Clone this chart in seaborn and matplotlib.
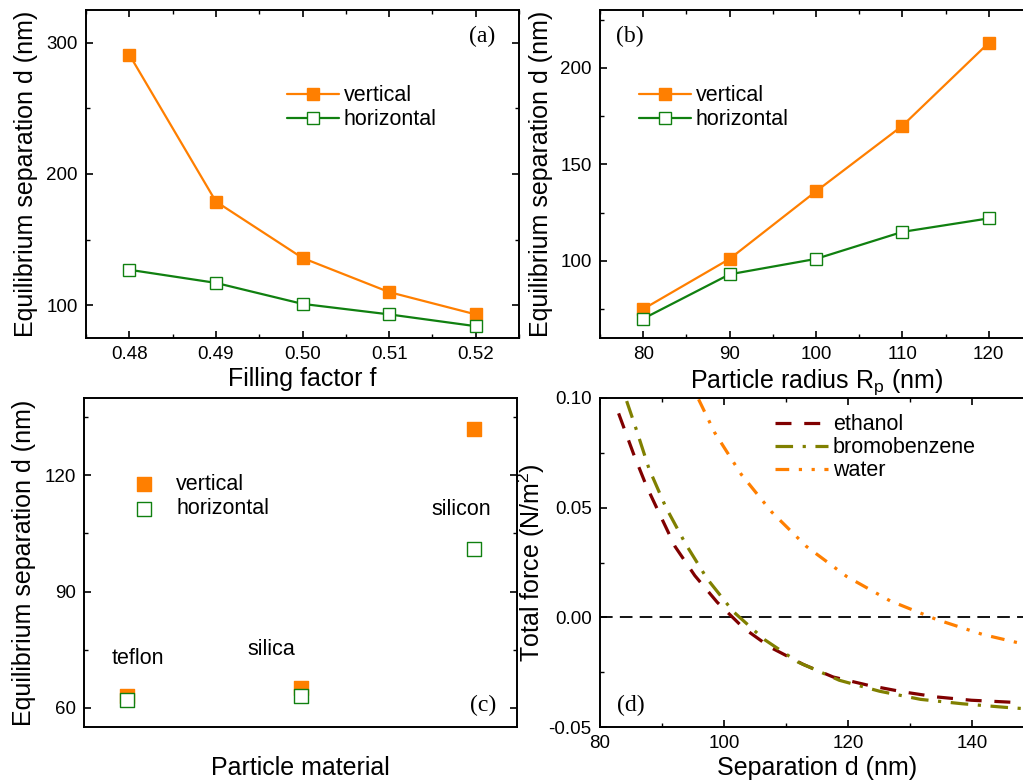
import matplotlib
matplotlib.use("Agg")
import matplotlib.pyplot as plt
from matplotlib.ticker import MultipleLocator, FormatStrFormatter, NullLocator
import seaborn as sns

# (a) separation vs filling factor
fill_factor = [0.48, 0.49, 0.50, 0.51, 0.52]
a_vertical = [291, 179, 136, 110, 93]
a_horizontal = [127, 117, 101, 93, 84]

# (b) separation vs particle radius
radius = [80, 90, 100, 110, 120]
b_vertical = [75, 101, 136, 170, 213]
b_horizontal = [70, 93, 101, 115, 122]

# (c) separation vs particle material
materials = ["teflon", "silica", "silicon"]
c_vertical = [63, 65, 132]
c_horizontal = [62, 63, 101]

# (d) total force vs separation
ethanol_x = [83.0, 85.4, 87.5, 89.8, 92.1, 95.3, 98.9, 103.2, 107.5, 112.8,
             117.6, 123.3, 128.9, 134.3, 139.9, 145.6, 148.2]
ethanol_y = [0.093, 0.0746, 0.0598, 0.0460, 0.0323, 0.0190, 0.0069, -0.0050,
             -0.0137, -0.0215, -0.0272, -0.0310, -0.0340, -0.0363, -0.0378,
             -0.0386, -0.0390]
bromo_x = [84.3, 85.8, 87.9, 90.6, 93.8, 97.3, 101.5, 106.5, 112.0, 118.6,
           125.1, 131.7, 138.4, 145.2, 148.2]
bromo_y = [0.0986, 0.0861, 0.0678, 0.0503, 0.0335, 0.0175, 0.0026, -0.0101,
           -0.0205, -0.0287, -0.0337, -0.0374, -0.0394, -0.0410, -0.0416]
water_x = [95.9, 98.5, 102.8, 107.7, 113.3, 119.8, 126.8, 134.2, 141.7, 148.2]
water_y = [0.0994, 0.0842, 0.0651, 0.0480, 0.0323, 0.0186, 0.0075, -0.0009,
           -0.0078, -0.0121]

ORANGE = "#ff7f00"
GREEN = "#108010"
MAROON = "#800000"
OLIVE = "#808000"

sns.set_style("ticks")
plt.rcParams["font.family"] = ["Liberation Sans", "DejaVu Sans"]
plt.rcParams["mathtext.fontset"] = "custom"
plt.rcParams["mathtext.rm"] = "Liberation Sans"
plt.rcParams["mathtext.it"] = "Liberation Sans"
plt.rcParams["axes.unicode_minus"] = False
plt.rcParams["axes.linewidth"] = 1.4
plt.rcParams["axes.edgecolor"] = "black"
plt.rcParams["axes.labelcolor"] = "black"
plt.rcParams["text.color"] = "black"
plt.rcParams["xtick.color"] = "black"
plt.rcParams["ytick.color"] = "black"

W, H = 1023, 783
fig = plt.figure(figsize=(W / 100, H / 100), dpi=100)


def add_ax(left, right, top, bottom):
    return fig.add_axes([left / W, 1 - bottom / H, (right - left) / W, (bottom - top) / H])


ax_a = add_ax(86, 519, 10, 338)
ax_b = add_ax(600, 1032, 10, 338)
ax_c = add_ax(84, 517, 398, 727)
ax_d = add_ax(600, 1034, 398, 727)

TICK_FS = 13.5
LABEL_FS = 18
LEG_FS = 15.5
PANEL_FS = 17


def style_ticks(ax, xmaj, xmin, ymaj, ymin, xticks=True):
    for side in ["top", "right", "left", "bottom"]:
        ax.spines[side].set_visible(True)
        ax.spines[side].set_linewidth(1.4)
    if xticks:
        ax.xaxis.set_major_locator(MultipleLocator(xmaj))
        ax.xaxis.set_minor_locator(MultipleLocator(xmin))
        ax.tick_params(axis="x", which="both", direction="in", top=True, bottom=True)
    else:
        ax.set_xticks([])
        ax.xaxis.set_minor_locator(NullLocator())
    ax.yaxis.set_major_locator(MultipleLocator(ymaj))
    ax.yaxis.set_minor_locator(MultipleLocator(ymin))
    ax.tick_params(axis="y", which="both", direction="in", left=True, right=True)
    ax.tick_params(which="major", length=5, width=1.2, labelsize=TICK_FS, pad=6,
                   labelcolor="black")
    ax.tick_params(which="minor", length=3, width=1.0)


def line_pair(ax, x, yv, yh):
    sns.lineplot(x=x, y=yv, ax=ax, color=ORANGE, lw=1.6, marker="s", markersize=9,
                 markerfacecolor=ORANGE, markeredgecolor=ORANGE, markeredgewidth=1,
                 label="vertical")
    sns.lineplot(x=x, y=yh, ax=ax, color=GREEN, lw=1.6, marker="s", markersize=9,
                 markerfacecolor="white", markeredgecolor=GREEN, markeredgewidth=1,
                 label="horizontal")


# (a)
line_pair(ax_a, fill_factor, a_vertical, a_horizontal)
ax_a.set_xlim(0.475, 0.525)
ax_a.set_ylim(75, 325)
style_ticks(ax_a, 0.01, 0.005, 100, 50)
ax_a.xaxis.set_major_formatter(FormatStrFormatter("%.2f"))
ax_a.set_xlabel("Filling factor f", fontsize=LABEL_FS, labelpad=3)
ax_a.set_ylabel("Equilibrium separation d (nm)", fontsize=LABEL_FS, labelpad=6)
ax_a.legend(loc="upper left", bbox_to_anchor=(0.464, 0.771), frameon=False,
            fontsize=LEG_FS, handlelength=2.4, handletextpad=0.25,
            labelspacing=0.15, borderpad=0, borderaxespad=0)
ax_a.text(0.915, 0.918, "(a)", transform=ax_a.transAxes, ha="center", va="center",
          fontsize=PANEL_FS, family="Liberation Serif")

# (b)
line_pair(ax_b, radius, b_vertical, b_horizontal)
ax_b.set_xlim(75, 125)
ax_b.set_ylim(60, 230)
style_ticks(ax_b, 10, 5, 50, 25)
ax_b.set_xlabel("Particle radius R$_\\mathrm{p}$ (nm)", fontsize=LABEL_FS, labelpad=3)
ax_b.set_ylabel("Equilibrium separation d (nm)", fontsize=LABEL_FS, labelpad=5)
ax_b.legend(loc="upper left", bbox_to_anchor=(0.090, 0.771), frameon=False,
            fontsize=LEG_FS, handlelength=2.4, handletextpad=0.25,
            labelspacing=0.15, borderpad=0, borderaxespad=0)
ax_b.text(0.069, 0.918, "(b)", transform=ax_b.transAxes, ha="center", va="center",
          fontsize=PANEL_FS, family="Liberation Serif")

# (c)
positions = list(range(len(materials)))
sns.scatterplot(x=positions, y=c_vertical, ax=ax_c, marker="s", s=90,
                color=ORANGE, edgecolor=ORANGE, linewidth=1, label="vertical", zorder=3)
sns.scatterplot(x=positions, y=c_horizontal, ax=ax_c, marker="s", s=90,
                facecolor="white", edgecolor=GREEN, linewidth=1, label="horizontal",
                zorder=4)
ax_c.set_xlim(-0.25, 2.25)
ax_c.set_ylim(55, 140)
style_ticks(ax_c, 1, 1, 30, 15, xticks=False)
ax_c.set_xlabel("Particle material", fontsize=LABEL_FS, labelpad=21)
ax_c.set_ylabel("Equilibrium separation d (nm)", fontsize=LABEL_FS, labelpad=6)
label_offsets = [(0.06, 72.6), (-0.17, 75.0), (-0.07, 111.1)]
for pos, name, (dx, ty) in zip(positions, materials, label_offsets):
    ax_c.text(pos + dx, ty, name, ha="center", va="center", fontsize=LEG_FS)
ax_c.legend(loc="upper left", bbox_to_anchor=(0.114, 0.769), frameon=False,
            fontsize=LEG_FS, handlelength=1.0, handletextpad=1.0, scatterpoints=1,
            labelspacing=0.15, borderpad=0, borderaxespad=0)
ax_c.text(0.921, 0.067, "(c)", transform=ax_c.transAxes, ha="center", va="center",
          fontsize=PANEL_FS, family="Liberation Serif")

# (d)
ax_d.axhline(0, color="black", lw=1.3, linestyle=(0, (7, 4)), zorder=1)
sns.lineplot(x=ethanol_x, y=ethanol_y, ax=ax_d, color=MAROON, lw=2.3,
             linestyle=(0, (5.0, 4.0)), label="ethanol")
sns.lineplot(x=bromo_x, y=bromo_y, ax=ax_d, color=OLIVE, lw=2.3,
             linestyle=(0, (5.5, 3.0, 1.0, 3.0)), label="bromobenzene")
sns.lineplot(x=water_x, y=water_y, ax=ax_d, color=ORANGE, lw=2.3,
             linestyle=(0, (4.3, 3.0, 1.0, 3.0, 1.0, 3.0)), label="water")
ax_d.set_xlim(80, 150)
ax_d.set_ylim(-0.05, 0.10)
style_ticks(ax_d, 20, 10, 0.05, 0.025)
ax_d.yaxis.set_major_formatter(FormatStrFormatter("%.2f"))
ax_d.set_xlabel("Separation d (nm)", fontsize=LABEL_FS, labelpad=3)
ax_d.set_ylabel("Total force (N/m$^2$)", fontsize=LABEL_FS, labelpad=1)
ax_d.legend(loc="upper left", bbox_to_anchor=(0.403, 0.951), frameon=False,
            fontsize=LEG_FS, handlelength=2.45, handletextpad=0.25,
            labelspacing=0.1, borderpad=0, borderaxespad=0)
ax_d.text(0.071, 0.067, "(d)", transform=ax_d.transAxes, ha="center", va="center",
          fontsize=PANEL_FS, family="Liberation Serif")

fig.savefig("out.png", dpi=100)
